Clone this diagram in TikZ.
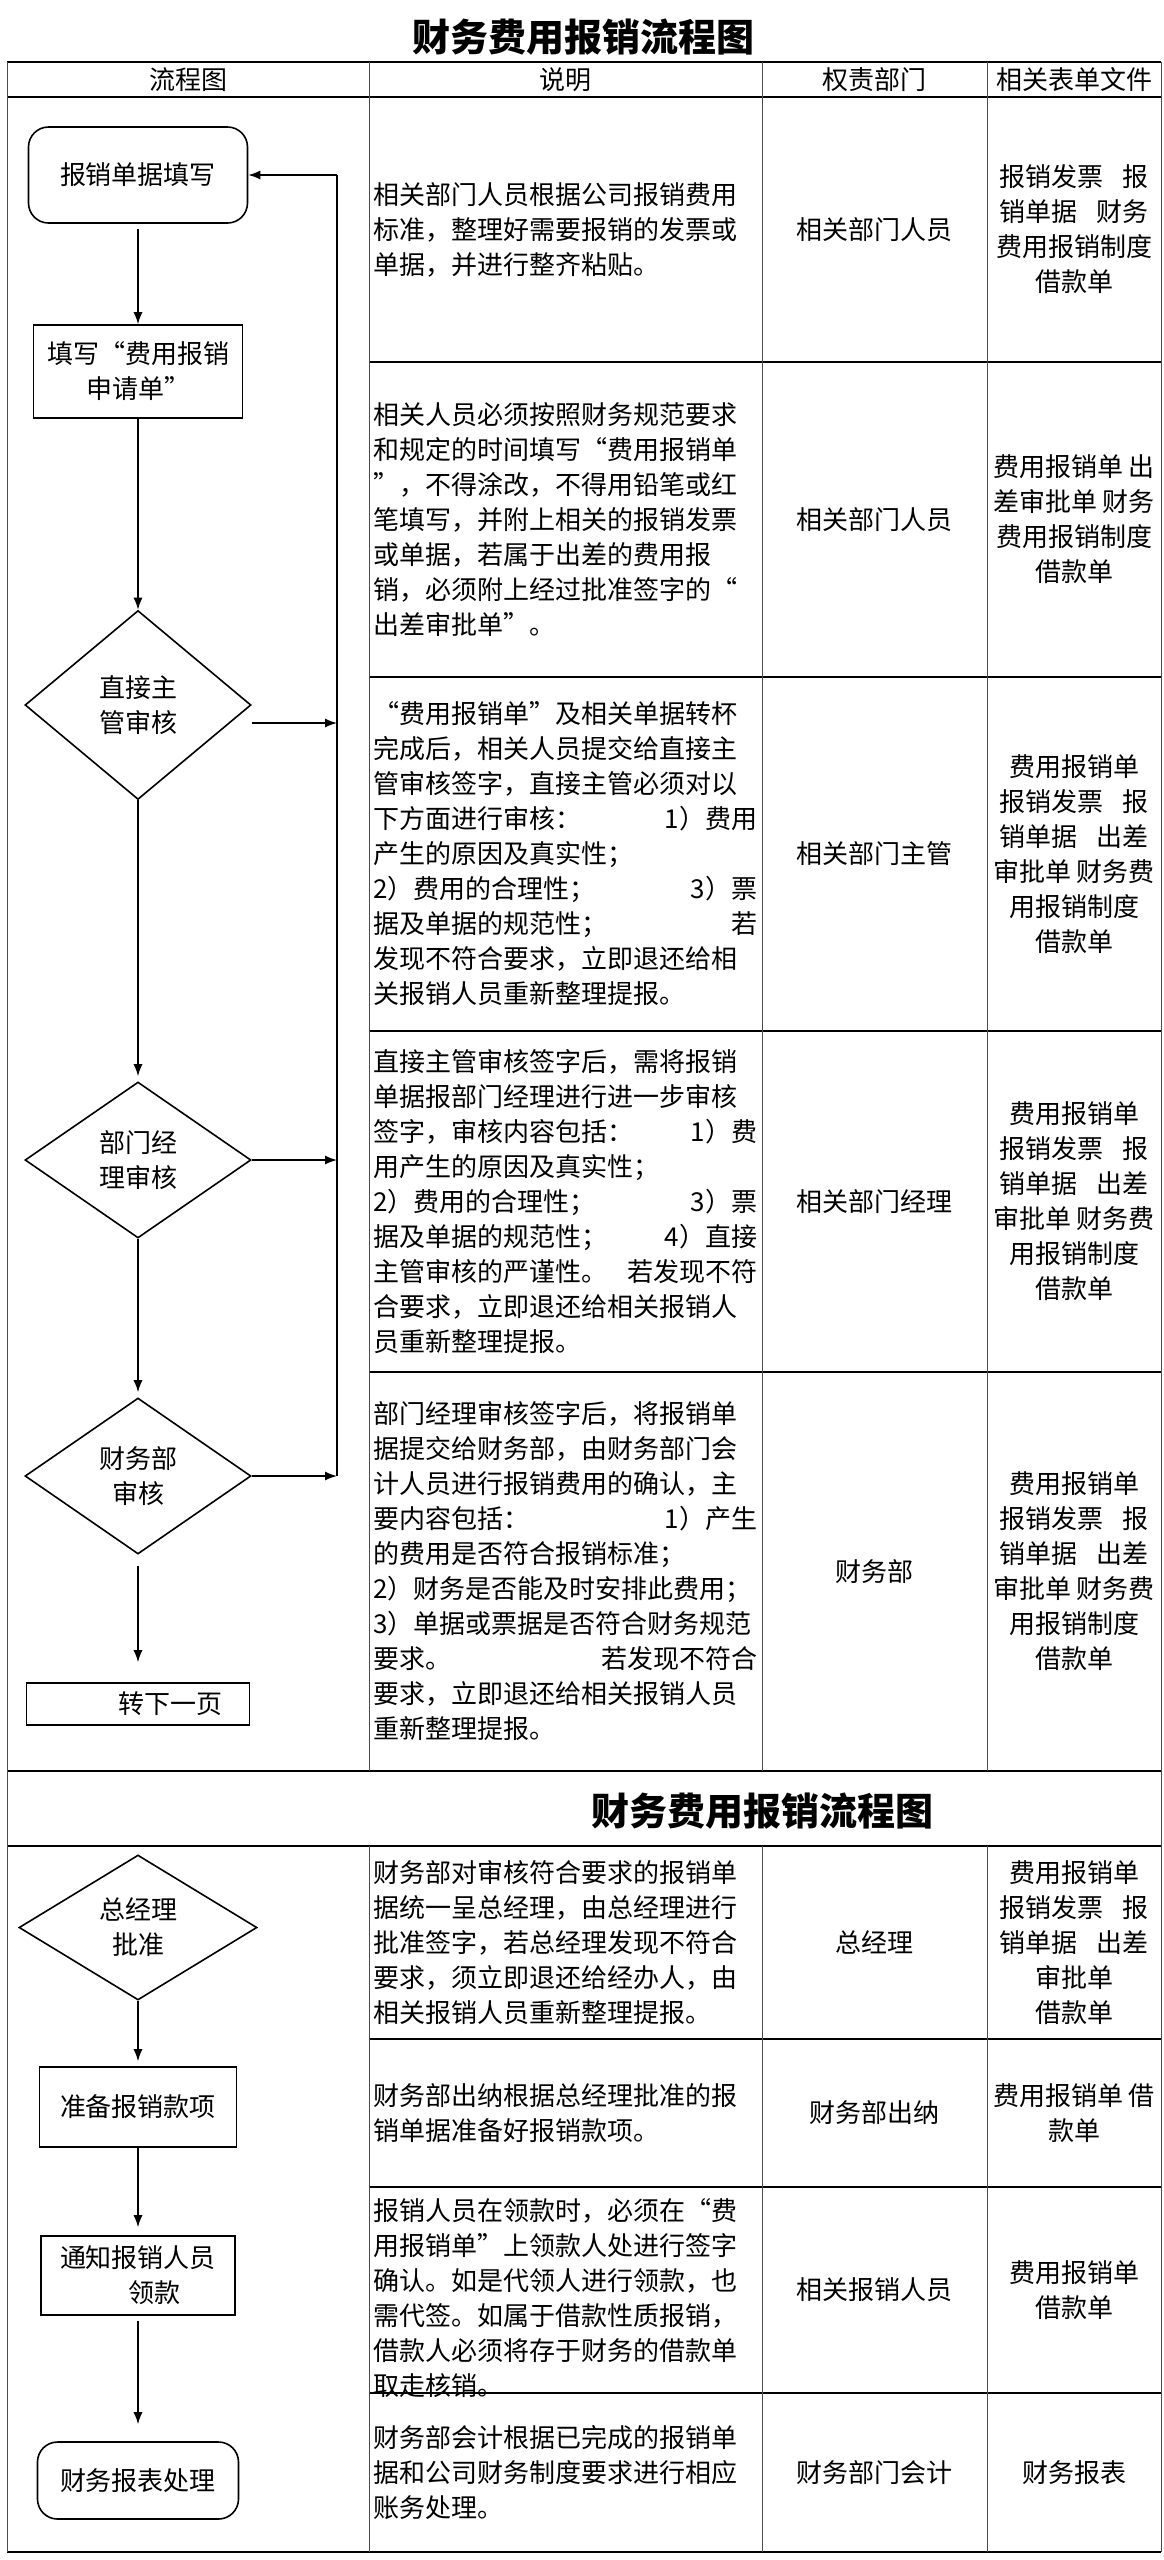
\documentclass[tikz,border=0pt]{standalone}
\usepackage{fontspec}
\setmainfont{Noto Sans CJK SC}
\usepackage{xcolor}
\usepackage{tikz}
\usetikzlibrary{arrows.meta,positioning,shapes.geometric}

\begin{document}
\begin{tikzpicture}[
    x=0.5pt, y=-0.5pt,
    txt/.style={font=\fontsize{13}{17.5}\selectfont, inner sep=0pt},
    heading/.style={font=\fontsize{19}{23}\selectfont\bfseries, inner sep=0pt},
    desc/.style={txt, anchor=west, text width=192pt, align=left},
    cell/.style={txt, align=center},
    box/.style={draw, line width=0.8pt, txt, align=center},
    rbox/.style={box, rounded corners=10pt},
    dia/.style={draw, diamond, aspect=1.5, line width=0.8pt, txt, align=center},
    arrow/.style={-{Latex[length=6pt,width=4.5pt]}, line width=0.7pt},
    rowline/.style={line width=0.9pt},
    colline/.style={line width=0.5pt, black!70}
]
\useasboundingbox (0,0) rectangle (1163,2560);

\node[heading] (title) at (583,37) {财务费用报销流程图};
\node[heading] (title2) at (762,1811) {财务费用报销流程图};

\draw[rowline] (7,62) -- (1161,62) (7,97) -- (1161,97) (7,1771) -- (1161,1771)
    (7,1846) -- (1161,1846) (7,2552) -- (1161,2552);
\foreach \y in {362,677,1031,1372,2039,2187,2393}
    \draw[rowline] (369,\y) -- (1161,\y);
\draw[colline] (7,62) -- (7,2552) (1161,62) -- (1161,2552);
\foreach \x in {369,762,987}
    \draw[colline] (\x,62) -- (\x,1771) (\x,1846) -- (\x,2552);

\node[txt] (h1) at (188,80) {流程图};
\node[txt] (h2) at (565,80) {说明};
\node[txt] (h3) at (874,80) {权责部门};
\node[txt] (h4) at (1074,80) {相关表单文件};

\node[desc] (s1) at (373,229.5) {相关部门人员根据公司报销费用\\标准，整理好需要报销的发票或\\单据，并进行整齐粘贴。};
\node[cell] (p1) at (874,229.5) {相关部门人员};
\node[cell] (f1) at (1074,229.5) {报销发票\hspace{0.75em}报\\销单据\hspace{0.75em}财务\\费用报销制度\\借款单};

\node[desc] (s2) at (373,519.5) {相关人员必须按照财务规范要求\\和规定的时间填写“费用报销单\\”，不得涂改，不得用铅笔或红\\笔填写，并附上相关的报销发票\\或单据，若属于出差的费用报\\销，必须附上经过批准签字的“\\出差审批单”。};
\node[cell] (p2) at (874,519.5) {相关部门人员};
\node[cell] (f2) at (1074,519.5) {费用报销单 出\\差审批单 财务\\费用报销制度\\借款单};

\node[desc] (s3) at (373,854) {“费用报销单”及相关单据转杯\\完成后，相关人员提交给直接主\\管审核签字，直接主管必须对以\\下方面进行审核：\hfill 1）费用\\产生的原因及真实性；\\2）费用的合理性；\hfill 3）票\\据及单据的规范性；\hfill 若\\发现不符合要求，立即退还给相\\关报销人员重新整理提报。};
\node[cell] (p3) at (874,854) {相关部门主管};
\node[cell] (f3) at (1074,854) {费用报销单\\报销发票\hspace{0.75em}报\\销单据\hspace{0.75em}出差\\审批单 财务费\\用报销制度\\借款单};

\node[desc] (s4) at (373,1201.5) {直接主管审核签字后，需将报销\\单据报部门经理进行进一步审核\\签字，审核内容包括：\hfill 1）费\\用产生的原因及真实性；\\2）费用的合理性；\hfill 3）票\\据及单据的规范性；\hfill 4）直接\\主管审核的严谨性。\hfill 若发现不符\\合要求，立即退还给相关报销人\\员重新整理提报。};
\node[cell] (p4) at (874,1201.5) {相关部门经理};
\node[cell] (f4) at (1074,1201.5) {费用报销单\\报销发票\hspace{0.75em}报\\销单据\hspace{0.75em}出差\\审批单 财务费\\用报销制度\\借款单};

\node[desc] (s5) at (373,1571.5) {部门经理审核签字后，将报销单\\据提交给财务部，由财务部门会\\计人员进行报销费用的确认，主\\要内容包括：\hfill 1）产生\\的费用是否符合报销标准；\\2）财务是否能及时安排此费用；\\3）单据或票据是否符合财务规范\\要求。\hfill 若发现不符合\\要求，立即退还给相关报销人员\\重新整理提报。};
\node[cell] (p5) at (874,1571.5) {财务部};
\node[cell] (f5) at (1074,1571.5) {费用报销单\\报销发票\hspace{0.75em}报\\销单据\hspace{0.75em}出差\\审批单 财务费\\用报销制度\\借款单};

\node[desc] (s6) at (373,1942.5) {财务部对审核符合要求的报销单\\据统一呈总经理，由总经理进行\\批准签字，若总经理发现不符合\\要求，须立即退还给经办人，由\\相关报销人员重新整理提报。};
\node[cell] (p6) at (874,1942.5) {总经理};
\node[cell] (f6) at (1074,1942.5) {费用报销单\\报销发票\hspace{0.75em}报\\销单据\hspace{0.75em}出差\\审批单\\借款单};

\node[desc] (s7) at (373,2113) {财务部出纳根据总经理批准的报\\销单据准备好报销款项。};
\node[cell] (p7) at (874,2113) {财务部出纳};
\node[cell] (f7) at (1074,2113) {费用报销单 借\\款单};

\node[desc] (s8) at (373,2298) {报销人员在领款时，必须在“费\\用报销单”上领款人处进行签字\\确认。如是代领人进行领款，也\\需代签。如属于借款性质报销，\\借款人必须将存于财务的借款单\\取走核销。};
\node[cell] (p8) at (874,2290) {相关报销人员};
\node[cell] (f8) at (1074,2290) {费用报销单\\借款单};

\node[desc] (s9) at (373,2472.5) {财务部会计根据已完成的报销单\\据和公司财务制度要求进行相应\\账务处理。};
\node[cell] (p9) at (874,2472.5) {财务部门会计};
\node[cell] (f9) at (1074,2472.5) {财务报表};

\node[rbox, minimum width=109.5pt, minimum height=48pt] (doc) at (138,175) {报销单据填写};
\node[box, minimum width=104.5pt, minimum height=46.5pt] (apply) at (138,371.5) {填写“费用报销\\申请单”};
\node[dia, minimum width=113pt, minimum height=94.5pt] (sup) at (138,705) {直接主\\管审核};
\node[dia, minimum width=113pt, minimum height=78pt] (mgr) at (138,1160) {部门经\\理审核};
\node[dia, minimum width=113pt, minimum height=78pt] (fin) at (138,1476) {财务部\\审核};
\node[box, minimum width=111.5pt, minimum height=21pt] (cont) at (138,1704) {\hspace{2.5em}转下一页};
\node[dia, minimum width=119pt, minimum height=72.5pt] (gm) at (138,1927.5) {总经理\\批准};
\node[box, minimum width=98.5pt, minimum height=40pt] (prep) at (138,2107) {准备报销款项};
\node[box, minimum width=97pt, minimum height=39.5pt] (notify) at (138,2275.5) {通知报销人员\\\hspace{1.3em}领款};
\node[rbox, minimum width=100.5pt, minimum height=38.5pt] (report) at (138,2480.5) {财务报表处理};

\coordinate (fbtop) at (337,175);
\coordinate (fb1) at (337,723);
\coordinate (fb2) at (337,1160);
\coordinate (fb3) at (337,1476);

\draw[arrow, shorten <=2.5pt] (doc) -- (apply);
\draw[arrow] (apply) -- (sup);
\draw[arrow, shorten >=2.5pt] (sup) -- (mgr);
\draw[arrow, shorten >=2.5pt] (mgr) -- (fin);
\draw[arrow, shorten <=5.5pt, shorten >=10pt] (fin) -- (cont);
\draw[arrow] ([yshift=-9pt]sup.east) -- (fb1);
\draw[arrow] (mgr.east) -- (fb2);
\draw[arrow] (fin.east) -- (fb3);
\draw[line width=1.2pt] (fb3) -- (fbtop);
\draw[arrow] (fbtop) -- (doc.east);
\draw[arrow, shorten >=2.5pt] (gm) -- (prep);
\draw[arrow, shorten >=4pt] (prep) -- (notify);
\draw[arrow, shorten <=2.5pt, shorten >=8.5pt] (notify) -- (report);
\end{tikzpicture}
\end{document}
